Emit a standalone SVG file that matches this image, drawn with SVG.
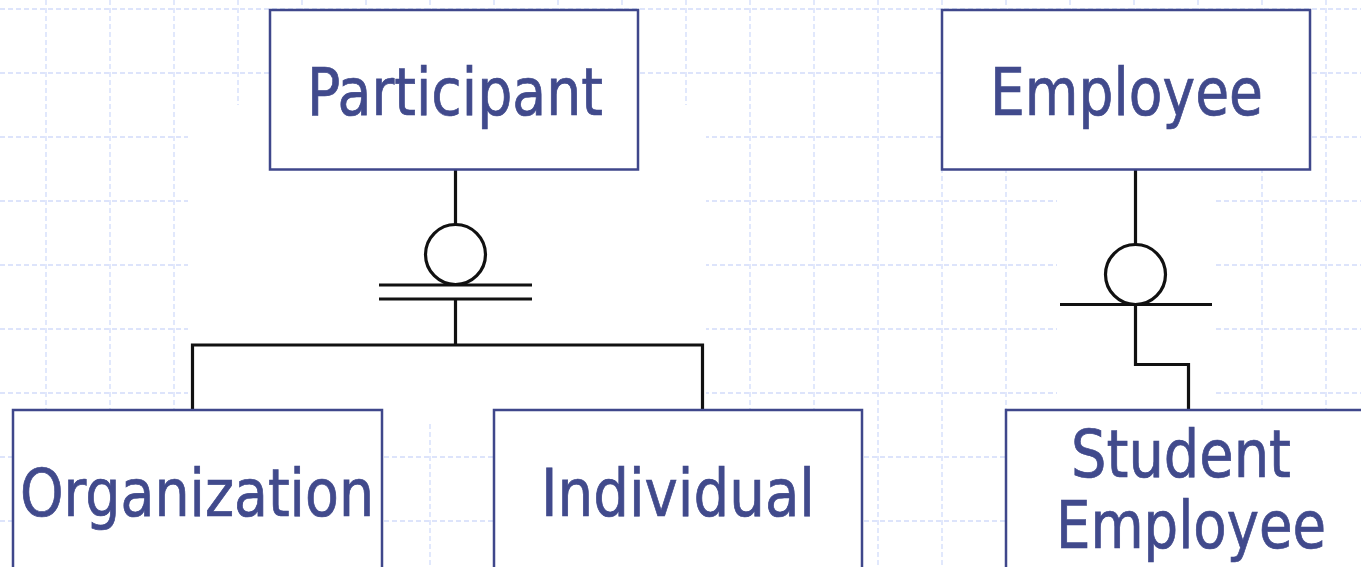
<svg xmlns="http://www.w3.org/2000/svg" width="1361" height="567" viewBox="0 0 1361 567">
  <style>
    .grid { fill: none; stroke: #d2dcfa; stroke-width: 1.3; stroke-dasharray: 5 3; }
    .blank { fill: #ffffff; stroke: none; }
    .entity { fill: #ffffff; stroke: #3f478b; stroke-width: 2.5; }
    .label { font-family: "DejaVu Sans Condensed", "DejaVu Sans", sans-serif; font-size: 65px; fill: #414a8c; stroke: #414a8c; stroke-width: 0.7; text-anchor: middle; }
    .link { fill: none; stroke: #111111; stroke-width: 3.2; stroke-linecap: butt; stroke-linejoin: miter; }
  </style>

  <!-- graph-paper background -->
  <rect x="0" y="0" width="1361" height="567" fill="#ffffff"/>
  <path class="grid" d="
    M46 0V567 M110 0V567 M174 0V567 M238 0V567 M302 0V567 M366 0V567 M430 0V567
    M494 0V567 M558 0V567 M622 0V567 M686 0V567 M750 0V567 M814 0V567 M878 0V567
    M942 0V567 M1006 0V567 M1070 0V567 M1134 0V567 M1198 0V567 M1262 0V567 M1326 0V567
    M0 9H1361 M0 73H1361 M0 137H1361 M0 201H1361 M0 265H1361
    M0 329H1361 M0 393H1361 M0 457H1361 M0 521H1361"/>
  <!-- plain areas without grid -->
  <rect class="blank" x="188" y="105" width="518" height="317"/>
  <rect class="blank" x="1057" y="170" width="156" height="240"/>

  <!-- connectors -->
  <g id="connectors">
    <!-- Participant: disjoint, mandatory generalization -->
    <g id="participant-subtypes">
      <line class="link" x1="455.5" y1="170" x2="455.5" y2="224"/>
      <circle class="link" cx="455.5" cy="254.5" r="30"/>
      <line class="link" x1="379" y1="285" x2="532" y2="285"/>
      <line class="link" x1="379" y1="299" x2="532" y2="299"/>
      <polyline class="link" points="455.5,299 455.5,345"/>
      <polyline class="link" points="192.5,410 192.5,345 702.5,345 702.5,410"/>
    </g>
    <!-- Employee: optional subtype -->
    <g id="employee-subtype">
      <line class="link" x1="1135.5" y1="170" x2="1135.5" y2="244.5"/>
      <circle class="link" cx="1135.5" cy="274.5" r="30"/>
      <line class="link" x1="1060" y1="304.5" x2="1212" y2="304.5"/>
      <polyline class="link" points="1135.5,304.5 1135.5,364.5 1188.5,364.5 1188.5,410"/>
    </g>
  </g>

  <!-- entities -->
  <g id="participant">
    <rect class="entity" x="270" y="10" width="368" height="159.5"/>
    <text class="label" x="455" y="115" textLength="296" lengthAdjust="spacingAndGlyphs">Participant</text>
  </g>
  <g id="employee">
    <rect class="entity" x="942" y="10" width="368" height="159.5"/>
    <text class="label" x="1126.5" y="115" textLength="273" lengthAdjust="spacingAndGlyphs">Employee</text>
  </g>
  <g id="organization">
    <rect class="entity" x="13" y="410" width="369" height="200"/>
    <text class="label" x="197" y="516" textLength="354" lengthAdjust="spacingAndGlyphs">Organization</text>
  </g>
  <g id="individual">
    <rect class="entity" x="494" y="410" width="368" height="200"/>
    <text class="label" x="678" y="516" textLength="274" lengthAdjust="spacingAndGlyphs">Individual</text>
  </g>
  <g id="student-employee">
    <rect class="entity" x="1006" y="410" width="400" height="200"/>
    <text class="label" x="1181" y="477" textLength="220" lengthAdjust="spacingAndGlyphs">Student</text>
    <text class="label" x="1191" y="548" textLength="270" lengthAdjust="spacingAndGlyphs">Employee</text>
  </g>
</svg>
